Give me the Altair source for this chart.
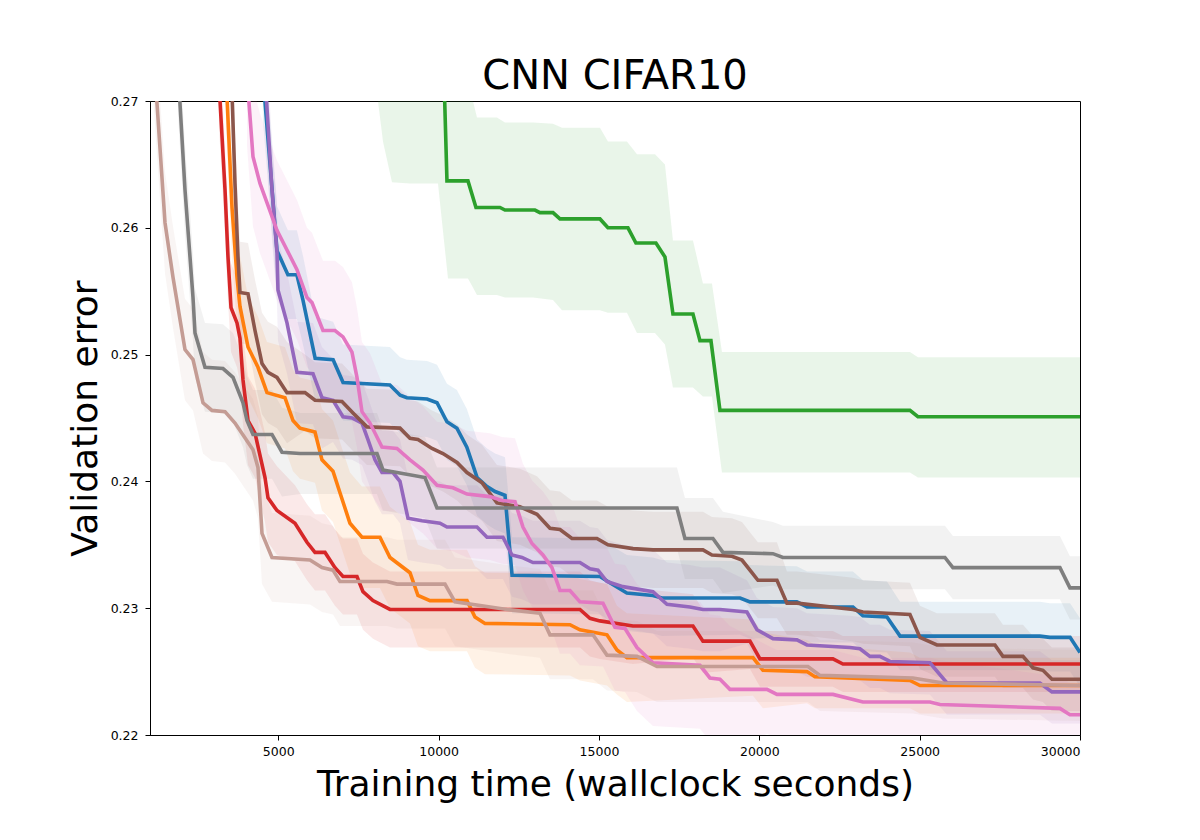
import altair as alt
import pandas as pd

SERIES = ["blue", "orange", "green", "red", "purple", "brown", "pink", "gray", "rose"]
COLORS = ["#1f77b4", "#ff7f0e", "#2ca02c", "#d62728", "#9467bd", "#8c564b", "#e377c2", "#7f7f7f", "#c49c94"]

X_TICKS = [5000, 10000, 15000, 20000, 25000, 30000]
Y_TICKS = [0.22, 0.23, 0.24, 0.25, 0.26, 0.27]

BLUE_X = [4520, 4960, 5300, 5580, 5770, 6150, 6710, 7020, 8480, 8800, 9010, 9640, 9950, 10260, 10570, 10880, 11200, 11510, 11760, 12070,
          12290, 15030, 15340, 15870, 16680, 16960, 19400, 19710, 21170, 21490, 22920, 23230, 23980, 24390, 28750, 29060, 29690, 30000]
BLUE_Y = [0.2720, 0.2582, 0.2563, 0.2563, 0.2543, 0.2497, 0.2496, 0.2478, 0.2476, 0.2468, 0.2466, 0.2465, 0.2462, 0.2447, 0.2442, 0.2427, 0.2403, 0.2396, 0.2392, 0.2389,
          0.2326, 0.2325, 0.2320, 0.2312, 0.2310, 0.2308, 0.2308, 0.2305, 0.2305, 0.2301, 0.2301, 0.2294, 0.2293, 0.2278, 0.2278, 0.2277, 0.2277, 0.2265]
BLUE_S = [0.0035, 0.0035, 0.0035, 0.0035, 0.0035, 0.0033, 0.003, 0.003, 0.003, 0.003, 0.003, 0.003, 0.003, 0.003, 0.003, 0.003, 0.003, 0.003, 0.003, 0.003,
          0.003, 0.003, 0.003, 0.003, 0.003, 0.003, 0.0029, 0.0029, 0.0028, 0.0028, 0.0028, 0.0028, 0.0028, 0.0027, 0.0027, 0.0027, 0.0027, 0.0027]

ORANGE_X = [3370, 3557, 3713, 3806, 4056, 4367, 4648, 5209, 5459, 5677, 6145, 6363, 6706, 6924, 7236, 7610, 8171, 8483, 9107, 9356,
            9730, 10884, 11134, 11445, 14096, 14407, 15249, 15561, 15873, 19802, 20113, 21485, 21735, 24697, 25009, 30000]
ORANGE_Y = [0.2720, 0.2616, 0.2561, 0.2538, 0.2506, 0.2490, 0.2470, 0.2466, 0.2448, 0.2442, 0.2439, 0.2417, 0.2408, 0.2391, 0.2367, 0.2356, 0.2356, 0.2340, 0.2328, 0.2310,
            0.2306, 0.2306, 0.2293, 0.2288, 0.2287, 0.2283, 0.2279, 0.2267, 0.2261, 0.2261, 0.2251, 0.2250, 0.2246, 0.2243, 0.2239, 0.2239]
ORANGE_S = [0.004, 0.004, 0.004, 0.004, 0.004, 0.004, 0.004, 0.004, 0.004, 0.004, 0.004, 0.004, 0.004, 0.004, 0.004, 0.004, 0.004, 0.004, 0.004, 0.004,
            0.004, 0.004, 0.004, 0.004, 0.004, 0.004, 0.004, 0.0035, 0.0035, 0.003, 0.003, 0.0025, 0.0025, 0.0022, 0.0022, 0.0022]

GREEN_X = [10167, 10260, 10915, 11165, 11913, 12069, 13004, 13160, 13566, 13784, 15031, 15280, 15904, 16153, 16777, 17058, 17307, 17931, 18149, 18492,
           18773, 24697, 24946, 30000]
GREEN_Y = [0.2720, 0.2637, 0.2637, 0.2616, 0.2616, 0.2614, 0.2614, 0.2612, 0.2612, 0.2607, 0.2607, 0.2600, 0.2600, 0.2588, 0.2588, 0.2577, 0.2532, 0.2532, 0.2511, 0.2511,
           0.2456, 0.2456, 0.2451, 0.2451]
GREEN_BAND_X = [8109, 8265, 8546, 9107, 9980, 10292, 10915, 11071, 11196, 11819, 12069, 12942, 13566, 13847, 15031, 15280, 15873, 16185, 16746, 17058,
                17307, 17931, 18243, 18523, 18835, 24697, 24946, 30000]
GREEN_LO = [0.2700, 0.2668, 0.2636, 0.2635, 0.2635, 0.2560, 0.2560, 0.2553, 0.2547, 0.2547, 0.2545, 0.2545, 0.2543, 0.2535, 0.2535, 0.2533, 0.2533, 0.2517, 0.2517, 0.2508,
            0.2474, 0.2474, 0.2467, 0.2467, 0.2407, 0.2407, 0.2403, 0.2403]
GREEN_HI = [0.2800, 0.2800, 0.2800, 0.2800, 0.2800, 0.2800, 0.2800, 0.2700, 0.2687, 0.2687, 0.2683, 0.2683, 0.2682, 0.2679, 0.2679, 0.2668, 0.2668, 0.2658, 0.2658, 0.2650,
            0.2590, 0.2590, 0.2556, 0.2556, 0.2502, 0.2502, 0.2498, 0.2498]

RED_X = [3150, 3339, 3432, 3526, 3713, 3806, 3900, 4056, 4274, 4586, 4679, 4960, 5521, 5895, 6145, 6457, 6768, 7018, 7454, 7641,
         7953, 8483, 14407, 14719, 15031, 16060, 17931, 18243, 19708, 20020, 22296, 22608, 30000]
RED_Y = [0.2715, 0.2630, 0.2577, 0.2537, 0.2525, 0.2513, 0.2480, 0.2448, 0.2438, 0.2403, 0.2387, 0.2377, 0.2367, 0.2352, 0.2344, 0.2344, 0.2332, 0.2325, 0.2325, 0.2313,
         0.2306, 0.2299, 0.2299, 0.2292, 0.2290, 0.2286, 0.2286, 0.2274, 0.2274, 0.2260, 0.2260, 0.2256, 0.2256]
RED_S = [0.0035, 0.0035, 0.0035, 0.0035, 0.0035, 0.0035, 0.0035, 0.0035, 0.0035, 0.0035, 0.0035, 0.0035, 0.003, 0.003, 0.003, 0.003, 0.003, 0.003, 0.003, 0.003,
         0.003, 0.003, 0.003, 0.003, 0.003, 0.003, 0.0025, 0.0025, 0.0022, 0.0022, 0.0022, 0.0022, 0.0022]

PURPLE_X = [4586, 4804, 4960, 4991, 5272, 5583, 6082, 6363, 6706, 7018, 7298, 7610, 7797, 8016, 8234, 8577, 8795, 9044, 9481, 10042,
            10260, 11196, 11508, 12007, 12287, 12599, 12942, 14407, 14719, 14969, 15249, 15748, 16684, 17120, 17837, 18243, 18773, 19614, 19926, 20425,
            21173, 21485, 22826, 23138, 23450, 23761, 24073, 25320, 25851, 28750, 29124, 30000]
PURPLE_Y = [0.2720, 0.2630, 0.2580, 0.2551, 0.2525, 0.2486, 0.2485, 0.2466, 0.2464, 0.2451, 0.2450, 0.2446, 0.2433, 0.2417, 0.2407, 0.2407, 0.2400, 0.2371, 0.2369, 0.2367,
            0.2364, 0.2364, 0.2356, 0.2356, 0.2342, 0.2340, 0.2336, 0.2336, 0.2331, 0.2330, 0.2321, 0.2317, 0.2313, 0.2303, 0.2301, 0.2299, 0.2299, 0.2297, 0.2283, 0.2276,
            0.2275, 0.2271, 0.2269, 0.2268, 0.2262, 0.2262, 0.2258, 0.2257, 0.2241, 0.2241, 0.2234, 0.2234]
PURPLE_S = [0.004, 0.004, 0.004, 0.004, 0.004, 0.004, 0.004, 0.004, 0.0033, 0.0033, 0.0033, 0.0033, 0.0033, 0.0033, 0.0033, 0.0033, 0.0033, 0.0033, 0.0033, 0.0033,
            0.0033, 0.0033, 0.0033, 0.0033, 0.0033, 0.0033, 0.0033, 0.0033, 0.0033, 0.0033, 0.0033, 0.0033, 0.0033, 0.0033, 0.0033, 0.0033, 0.0033, 0.0025, 0.0025, 0.0025,
            0.0025, 0.0025, 0.0025, 0.0025, 0.0025, 0.0025, 0.0025, 0.0025, 0.0025, 0.0025, 0.0025, 0.0025]

BROWN_X = [3540, 3650, 3744, 3806, 4056, 4274, 4492, 4679, 4960, 5272, 5833, 6145, 6987, 7330, 7766, 8795, 9107, 9356, 9793, 10135,
           10573, 10884, 11352, 11819, 12537, 13067, 13472, 13784, 14158, 14937, 15280, 16060, 16684, 18243, 18523, 19147, 19459, 19770, 19957, 20550,
           20862, 21173, 22920, 23231, 24697, 25009, 25539, 27347, 27597, 28221, 28532, 28844, 29124, 30000]
BROWN_Y = [0.2720, 0.2635, 0.2577, 0.2549, 0.2548, 0.2519, 0.2493, 0.2486, 0.2482, 0.2470, 0.2470, 0.2464, 0.2463, 0.2454, 0.2443, 0.2442, 0.2434, 0.2433, 0.2426, 0.2422,
           0.2415, 0.2407, 0.2399, 0.2383, 0.2380, 0.2374, 0.2363, 0.2362, 0.2355, 0.2355, 0.2350, 0.2347, 0.2346, 0.2346, 0.2342, 0.2341, 0.2338, 0.2328, 0.2322, 0.2322,
           0.2304, 0.2304, 0.2299, 0.2297, 0.2295, 0.2277, 0.2271, 0.2271, 0.2262, 0.2262, 0.2253, 0.2251, 0.2244, 0.2244]
BROWN_S = [0.004, 0.004, 0.004, 0.004, 0.004, 0.004, 0.004, 0.004, 0.004, 0.004, 0.003, 0.003, 0.003, 0.003, 0.003, 0.003, 0.003, 0.003, 0.003, 0.003,
           0.003, 0.003, 0.003, 0.003, 0.003, 0.003, 0.003, 0.003, 0.003, 0.003, 0.003, 0.003, 0.003, 0.003, 0.003, 0.003, 0.003, 0.003, 0.003, 0.003,
           0.0025, 0.0025, 0.0025, 0.0025, 0.0025, 0.0025, 0.0025, 0.0025, 0.0025, 0.0025, 0.0025, 0.0025, 0.0025, 0.0025]

PINK_X = [4024, 4212, 4430, 4960, 5583, 5895, 6051, 6394, 6768, 7018, 7298, 7454, 7610, 7860, 8234, 8701, 9107, 9512, 9949, 10447,
          10884, 11601, 11976, 12381, 12630, 12911, 13254, 13534, 13784, 14096, 14407, 15125, 15499, 15811, 16185, 16684, 18149, 18461, 18773, 19084,
          20238, 20550, 22296, 23231, 25320, 25632, 29374, 29686, 30000]
PINK_Y = [0.2720, 0.2656, 0.2635, 0.2598, 0.2567, 0.2545, 0.2541, 0.2519, 0.2519, 0.2514, 0.2502, 0.2482, 0.2455, 0.2446, 0.2427, 0.2426, 0.2417, 0.2409, 0.2397, 0.2395,
          0.2390, 0.2388, 0.2385, 0.2384, 0.2364, 0.2351, 0.2342, 0.2332, 0.2314, 0.2314, 0.2305, 0.2304, 0.2285, 0.2284, 0.2269, 0.2257, 0.2255, 0.2245, 0.2244, 0.2236,
          0.2236, 0.2232, 0.2232, 0.2226, 0.2226, 0.2224, 0.2221, 0.2216, 0.2216]
PINK_S = [0.0055, 0.0055, 0.0055, 0.0055, 0.0055, 0.0055, 0.0055, 0.0055, 0.0055, 0.0055, 0.0055, 0.0055, 0.0055, 0.0055, 0.005, 0.005, 0.005, 0.005, 0.005, 0.005,
          0.005, 0.005, 0.005, 0.005, 0.005, 0.005, 0.005, 0.005, 0.005, 0.005, 0.005, 0.005, 0.005, 0.005, 0.005, 0.005, 0.005, 0.005, 0.005, 0.005,
          0.0035, 0.0035, 0.0035, 0.0035, 0.0035, 0.0035, 0.0025, 0.0025, 0.0025]

GRAY_X = [1873, 2091, 2247, 2341, 2403, 2715, 3276, 3588, 3900, 4024, 4212, 4804, 5116, 5677, 8078, 8265, 8701, 9575, 9949, 17432,
          17681, 18554, 18866, 20425, 20737, 25788, 26037, 29374, 29686, 30000]
GRAY_Y = [0.2725, 0.2630, 0.2577, 0.2545, 0.2517, 0.2490, 0.2489, 0.2482, 0.2462, 0.2448, 0.2437, 0.2437, 0.2423, 0.2422, 0.2422, 0.2409, 0.2407, 0.2403, 0.2379, 0.2379,
          0.2355, 0.2355, 0.2344, 0.2343, 0.2340, 0.2340, 0.2332, 0.2332, 0.2316, 0.2316]
GRAY_S = [0.0035, 0.0035, 0.0035, 0.0035, 0.0035, 0.0035, 0.0035, 0.0035, 0.0035, 0.0035, 0.0035, 0.0035, 0.0035, 0.0032, 0.0032, 0.0032, 0.0032, 0.0032, 0.0032, 0.0032,
          0.0032, 0.0032, 0.0032, 0.0025, 0.0025, 0.0025, 0.0025, 0.0025, 0.0025, 0.0025]

ROSE_X = [1000, 1468, 1717, 2091, 2341, 2653, 2933, 3339, 3650, 4212, 4367, 4492, 4804, 5989, 6363, 6706, 6924, 8390, 8701, 10198,
          10510, 12131, 13160, 13472, 14813, 15249, 16185, 16809, 21516, 21891, 24790, 25726, 30000]
ROSE_Y = [0.2780, 0.2604, 0.2561, 0.2504, 0.2496, 0.2462, 0.2456, 0.2455, 0.2446, 0.2425, 0.2411, 0.2359, 0.2340, 0.2338, 0.2332, 0.2330, 0.2321, 0.2321, 0.2319, 0.2319,
          0.2305, 0.2299, 0.2296, 0.2279, 0.2279, 0.2263, 0.2262, 0.2254, 0.2254, 0.2247, 0.2245, 0.2241, 0.2239]
ROSE_S = [0.004, 0.004, 0.004, 0.004, 0.004, 0.004, 0.004, 0.004, 0.004, 0.004, 0.004, 0.004, 0.0035, 0.0035, 0.0035, 0.0035, 0.0035, 0.0035, 0.0035, 0.0035,
          0.0035, 0.0035, 0.0035, 0.0035, 0.0035, 0.0028, 0.0028, 0.0028, 0.0028, 0.0028, 0.0028, 0.0028, 0.0028]

STD_SERIES = [
    ("blue", BLUE_X, BLUE_Y, BLUE_S),
    ("orange", ORANGE_X, ORANGE_Y, ORANGE_S),
    ("red", RED_X, RED_Y, RED_S),
    ("purple", PURPLE_X, PURPLE_Y, PURPLE_S),
    ("brown", BROWN_X, BROWN_Y, BROWN_S),
    ("pink", PINK_X, PINK_Y, PINK_S),
    ("gray", GRAY_X, GRAY_Y, GRAY_S),
    ("rose", ROSE_X, ROSE_Y, ROSE_S),
]

line_rows = []
band_rows = []
for name, xs, ys, ss in STD_SERIES:
    for x, y, s in zip(xs, ys, ss):
        line_rows.append({"series": name, "x": x, "y": y})
        band_rows.append({"series": name, "x": x, "lo": y - s, "hi": y + s})
for x, y in zip(GREEN_X, GREEN_Y):
    line_rows.append({"series": "green", "x": x, "y": y})
for x, lo, hi in zip(GREEN_BAND_X, GREEN_LO, GREEN_HI):
    band_rows.append({"series": "green", "x": x, "lo": lo, "hi": hi})

lines_df = pd.DataFrame(line_rows)
bands_df = pd.DataFrame(band_rows)

color = alt.Color("series:N", scale=alt.Scale(domain=SERIES, range=COLORS), legend=None)
xscale = alt.Scale(domain=[1000, 30000], nice=False, zero=False)
yscale = alt.Scale(domain=[0.22, 0.27], nice=False, zero=False)

x_axis = alt.Axis(values=X_TICKS, format="d", title="Training time (wallclock seconds)",
                  titleX=465, titleY=60, titleBaseline="alphabetic", titleAlign="center",
                  labelPadding=5)
y_axis = alt.Axis(values=Y_TICKS, format=".2f", title="Validation error",
                  titleX=-54, titleY=317, titleBaseline="alphabetic", titleAlign="center",
                  titleAngle=270, labelPadding=7)

bands = alt.Chart(bands_df).mark_area(opacity=0.1, clip=True).encode(
    x=alt.X("x:Q", scale=xscale, axis=x_axis),
    y=alt.Y("lo:Q", scale=yscale, axis=y_axis),
    y2="hi:Q",
    color=color,
    detail="series:N",
)

lines = alt.Chart(lines_df).mark_line(strokeWidth=3.6, clip=True).encode(
    x=alt.X("x:Q", scale=xscale),
    y=alt.Y("y:Q", scale=yscale),
    color=color,
    detail="series:N",
)

chart = alt.layer(bands, lines).properties(
    width=930,
    height=634,
    title=alt.TitleParams("CNN CIFAR10", fontSize=40, font="DejaVu Sans", fontWeight="normal",
                          anchor="middle", frame="group", baseline="alphabetic", offset=11,
                          dy=45, color="black"),
    autosize=alt.AutoSizeParams(type="none"),
    padding={"left": 142, "top": 93, "right": 40, "bottom": 80},
    background="white",
).configure_axis(
    domainColor="black", tickColor="black", labelColor="black", titleColor="black",
    labelFont="DejaVu Sans", titleFont="DejaVu Sans", labelFontSize=12.5, titleFontSize=36,
    titleFontWeight="normal", tickSize=5, grid=False, domainWidth=1, tickWidth=1,
).configure_view(stroke="black", strokeWidth=1)

chart.save("out.html", embed_options={"renderer": "svg", "actions": False})
